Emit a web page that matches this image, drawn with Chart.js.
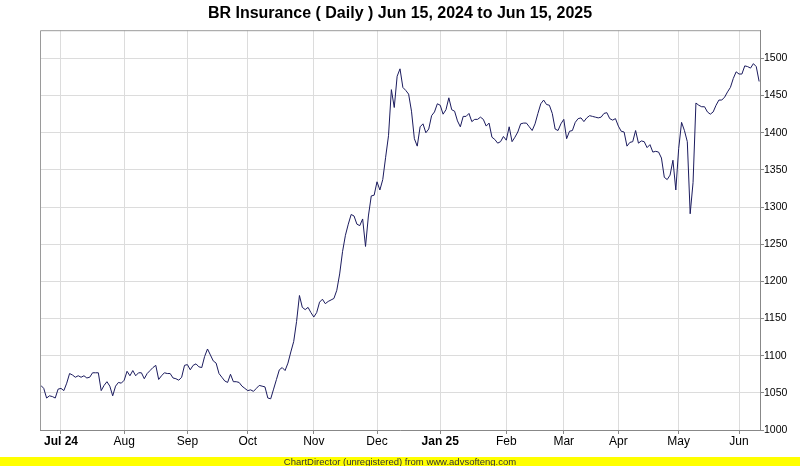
<!DOCTYPE html>
<html>
<head>
<meta charset="utf-8">
<script src="https://cdn.jsdelivr.net/npm/chart.js@4.4.1/dist/chart.umd.min.js"></script>
<style>
  body { margin: 0; background: #fff; }
  #wrap { width: 800px; height: 466px; }
  #footer {
    width: 800px; height: 9px; background: #ffff00;
    font: 9.5px "Liberation Sans", Arial, sans-serif; line-height: 9px;
    text-align: center; color: #333;
  }
</style>
</head>
<body>
<div id="wrap">
  <canvas id="chart" width="800" height="457"></canvas>
  <div id="footer">ChartDirector (unregistered) from www.advsofteng.com</div>
</div>
<script>
// daily closes, one per trading day, Jun 2024 -> Jun 2025
const closes = [
  1060, 1056, 1043, 1046, 1045, 1043, 1055, 1056, 1053, 1063,
  1076, 1074, 1071, 1073, 1071, 1073, 1070, 1071, 1077, 1077,
  1077, 1053, 1060, 1065, 1059, 1046, 1059, 1064, 1063, 1067,
  1079, 1073, 1080, 1073, 1077, 1077, 1069, 1076, 1080, 1084,
  1087, 1068, 1073, 1077, 1076, 1076, 1070, 1069, 1067, 1071,
  1087, 1088, 1081, 1087, 1089, 1085, 1084, 1099, 1109, 1101,
  1093, 1090, 1076, 1071, 1066, 1064, 1075, 1065, 1065, 1064,
  1059, 1056, 1053, 1054, 1052, 1056, 1060, 1059, 1058, 1043,
  1042, 1055, 1068, 1081, 1084, 1080, 1090, 1105, 1119, 1146,
  1181, 1165, 1162, 1165, 1158, 1152, 1158, 1172, 1176, 1170,
  1173, 1175, 1177, 1188, 1210, 1240, 1262, 1277, 1290, 1288,
  1277, 1275, 1284, 1247, 1288, 1315, 1316, 1334, 1323, 1337,
  1367, 1396, 1458, 1434, 1476, 1486, 1461, 1457, 1452, 1429,
  1392, 1382, 1408, 1412, 1400, 1405, 1423, 1428, 1439, 1437,
  1425, 1431, 1447, 1431, 1429, 1416, 1408, 1422, 1422, 1426,
  1415, 1418, 1418, 1421, 1418, 1409, 1413, 1394, 1391, 1386,
  1388, 1395, 1390, 1408, 1388, 1394, 1401, 1412, 1413, 1413,
  1408, 1403, 1412, 1426, 1439, 1444, 1438, 1437, 1426, 1405,
  1403, 1412, 1418, 1392, 1402, 1403, 1414, 1419, 1420, 1415,
  1420, 1423, 1422, 1421, 1420, 1421, 1426, 1427, 1419, 1417,
  1419, 1409, 1402, 1401, 1382, 1387, 1388, 1403, 1386, 1389,
  1388, 1380, 1384, 1374, 1375, 1374, 1366, 1340, 1337, 1343,
  1363, 1323, 1379, 1414, 1403, 1388, 1291, 1333, 1440, 1437,
  1435, 1435, 1428, 1425, 1428, 1437, 1444, 1444, 1448, 1455,
  1461, 1473, 1482, 1479, 1479, 1490, 1489, 1487, 1493, 1489,
  1469
];

// index of first trading day of each month, and its label
const monthTickIdx = [7, 29, 51, 72, 95, 117, 139, 162, 182, 201, 222, 243];
const monthTickLabels = ["Jul 24", "Aug", "Sep", "Oct", "Nov", "Dec", "Jan 25", "Feb", "Mar", "Apr", "May", "Jun"];
const yearLabels = ["Jul 24", "Jan 25"];

const priceTicks = [1000, 1050, 1100, 1150, 1200, 1250, 1300, 1350, 1400, 1450, 1500];

const FONT = "'Liberation Sans', Arial, sans-serif";

// grey frame round the plot area
const frame = {
    id: "frame",
    afterDraw(chart) {
        const a = chart.chartArea;
        const c = chart.ctx;
        c.save();
        c.strokeStyle = "#9a9a9a";
        c.lineWidth = 1;
        c.beginPath();
        c.moveTo(a.left + 0.5, a.bottom);
        c.lineTo(a.left + 0.5, a.top + 0.5);
        c.lineTo(a.right, a.top + 0.5);
        c.stroke();
        c.restore();
    }
};

const ctx = document.getElementById("chart").getContext("2d");
new Chart(ctx, {
    type: "line",
    data: {
        datasets: [{
            data: closes.map((v, i) => ({ x: i, y: v })),
            xAxisID: "x",
            yAxisID: "y",
            borderColor: "#1b1b5e",
            borderWidth: 1,
            pointRadius: 0,
            tension: 0,
            fill: false
        }]
    },
    options: {
        responsive: false,
        animation: false,
        layout: { padding: 0 },
        plugins: {
            legend: { display: false },
            tooltip: { enabled: false },
            title: {
                display: true,
                text: "BR Insurance ( Daily ) Jun 15, 2024 to Jun 15, 2025",
                color: "#000",
                font: { family: FONT, size: 16, weight: "bold", lineHeight: 1.2 },
                padding: { top: 4, bottom: 7 }
            }
        },
        scales: {
            x: {
                type: "linear",
                min: -0.3,
                max: 250.3,
                afterBuildTicks: s => { s.ticks = monthTickIdx.map(v => ({ value: v })); },
                afterFit: s => { s.height = 27; },
                grid: { color: "#dcdcdc", tickLength: 4, tickColor: "#888" },
                border: { color: "#888" },
                ticks: {
                    padding: 0,
                    maxRotation: 0,
                    autoSkip: false,
                    color: "#000",
                    callback: v => monthTickLabels[monthTickIdx.indexOf(v)],
                    font: c => {
                        const lbl = c.tick ? monthTickLabels[monthTickIdx.indexOf(c.tick.value)] : "";
                        return { family: FONT, size: 12, weight: yearLabels.includes(lbl) ? "bold" : "normal" };
                    }
                }
            },
            // empty left axis, only reserves the left margin
            yLeft: {
                type: "linear",
                position: "left",
                min: 0,
                max: 1,
                afterFit: s => { s.width = 40; },
                ticks: { display: false },
                grid: { display: false },
                border: { display: false }
            },
            y: {
                type: "linear",
                position: "right",
                min: 1000,
                max: 1538,
                afterBuildTicks: s => { s.ticks = priceTicks.map(v => ({ value: v })); },
                afterFit: s => { s.width = 40; },
                grid: { color: "#dcdcdc", tickLength: 4, tickColor: "#888" },
                border: { color: "#888" },
                ticks: {
                    padding: 0,
                    color: "#000",
                    callback: v => String(v),
                    font: { family: FONT, size: 10.5 }
                }
            }
        }
    },
    plugins: [frame]
});
</script>
</body>
</html>
